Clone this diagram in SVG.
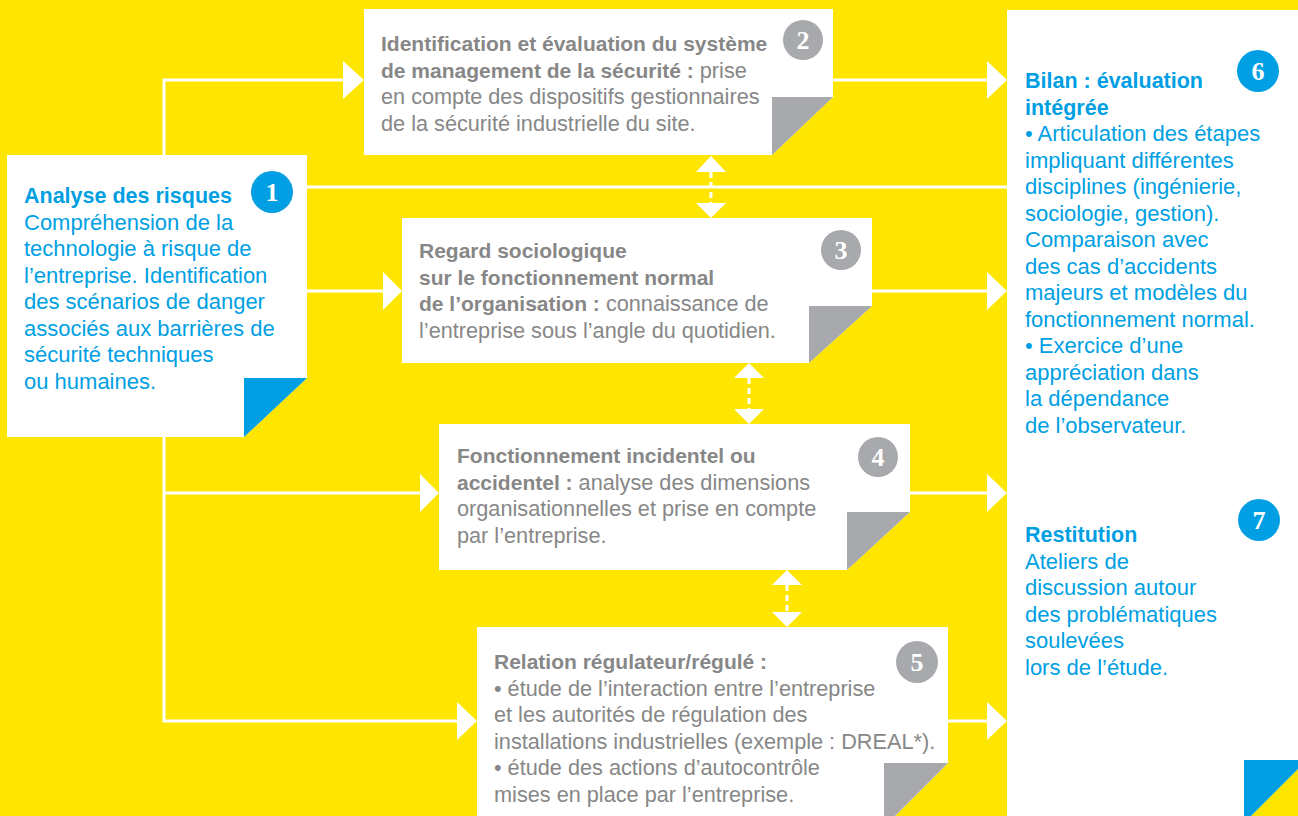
<svg xmlns="http://www.w3.org/2000/svg" width="1298" height="816" viewBox="0 0 1298 816">
<style>
.bg{fill:#FFE600}
.card{fill:#FFFFFF}
.foldg{fill:#A7A9AC}
.foldb{fill:#009FE3}
.ln{stroke:#FFFFFF;stroke-width:3;fill:none}
.dash{stroke:#FFFFFF;stroke-width:3;fill:none;stroke-dasharray:6 4}
.ah{fill:#FFFFFF}
.tg{font-family:"Liberation Sans",Arial,sans-serif;font-size:21.7px;fill:#878787}
.tg .b{font-size:21px}
.tb{font-family:"Liberation Sans",Arial,sans-serif;font-size:22px;fill:#009FE3}
.tb .b{font-size:21.5px}
.b{font-weight:bold}
.cg{fill:#A7A9AC}
.cb{fill:#009FE3}
.num{font-family:"Liberation Serif","Times New Roman",serif;font-weight:bold;font-size:26px;fill:#FFFFFF;text-anchor:middle}
</style>
<rect class="bg" x="0" y="0" width="1298" height="816"/>

<g id="connectors">
  <path class="ln" d="M345,80 H164 V721 H459"/>
  <path class="ln" d="M164,493 H422"/>
  <path class="ln" d="M307,291 H385"/>
  <path class="ln" d="M307,187 H1007"/>
  <path class="ln" d="M833,80 H989"/>
  <path class="ln" d="M872,291 H989"/>
  <path class="ln" d="M910,493 H989"/>
  <path class="ln" d="M948,721 H989"/>
  <polygon class="ah" points="343,61 364,80 343,99"/>
  <polygon class="ah" points="383,272 402,291 383,310"/>
  <polygon class="ah" points="420,474 439,493 420,512"/>
  <polygon class="ah" points="457,702 477,721 457,740"/>
  <polygon class="ah" points="987,61 1007,80 987,99"/>
  <polygon class="ah" points="987,272 1007,291 987,310"/>
  <polygon class="ah" points="987,474 1007,493 987,512"/>
  <polygon class="ah" points="987,702 1007,721 987,740"/>
  <path class="dash" d="M711,172 V203"/>
  <polygon class="ah" points="711,156 726,172 696,172"/>
  <polygon class="ah" points="711,218 726,203 696,203"/>
  <path class="dash" d="M749,378 V409"/>
  <polygon class="ah" points="749,363 764,378 734,378"/>
  <polygon class="ah" points="749,424 764,409 734,409"/>
  <path class="dash" d="M787,585 V612"/>
  <polygon class="ah" points="787,570 802,585 772,585"/>
  <polygon class="ah" points="787,627 802,612 772,612"/>
</g>

<g id="node1">
  <polygon class="card" points="7,155 307,155 307,378 244,437 7,437"/>
  <polygon class="foldb" points="244,378 307,378 244,437"/>
  <circle class="cb" cx="272" cy="192" r="21"/>
  <text class="num" x="272" y="201">1</text>
  <text class="tb" x="24" y="203"><tspan class="b">Analyse des risques</tspan></text>
  <text class="tb" x="24" y="229.5">Compréhension de la</text>
  <text class="tb" x="24" y="256">technologie à risque de</text>
  <text class="tb" x="24" y="282.5">l’entreprise. Identification</text>
  <text class="tb" x="24" y="309">des scénarios de danger</text>
  <text class="tb" x="24" y="335.5">associés aux barrières de</text>
  <text class="tb" x="24" y="362">sécurité techniques</text>
  <text class="tb" x="24" y="388.5">ou humaines.</text>
</g>

<g id="node2">
  <polygon class="card" points="364,9 833,9 833,97 772,155 364,155"/>
  <polygon class="foldg" points="772,97 833,97 772,155"/>
  <circle class="cg" cx="803" cy="40" r="20"/>
  <text class="num" x="803" y="49">2</text>
  <text class="tg" x="381" y="51"><tspan class="b">Identification et évaluation du système</tspan></text>
  <text class="tg" x="381" y="77.5"><tspan class="b">de management de la sécurité :</tspan> prise</text>
  <text class="tg" x="381" y="104">en compte des dispositifs gestionnaires</text>
  <text class="tg" x="381" y="130.5">de la sécurité industrielle du site.</text>
</g>

<g id="node3">
  <polygon class="card" points="402,218 872,218 872,306 809,363 402,363"/>
  <polygon class="foldg" points="809,306 872,306 809,363"/>
  <circle class="cg" cx="841" cy="250" r="20"/>
  <text class="num" x="841" y="259">3</text>
  <text class="tg" x="419" y="258"><tspan class="b">Regard sociologique</tspan></text>
  <text class="tg" x="419" y="284.5"><tspan class="b">sur le fonctionnement normal</tspan></text>
  <text class="tg" x="419" y="311"><tspan class="b">de l’organisation :</tspan> connaissance de</text>
  <text class="tg" x="419" y="337.5">l’entreprise sous l’angle du quotidien.</text>
</g>

<g id="node4">
  <polygon class="card" points="439,424 910,424 910,512 847,570 439,570"/>
  <polygon class="foldg" points="847,512 910,512 847,570"/>
  <circle class="cg" cx="878" cy="457" r="20"/>
  <text class="num" x="878" y="466">4</text>
  <text class="tg" x="457" y="463"><tspan class="b">Fonctionnement incidentel ou</tspan></text>
  <text class="tg" x="457" y="489.5"><tspan class="b">accidentel :</tspan> analyse des dimensions</text>
  <text class="tg" x="457" y="516">organisationnelles et prise en compte</text>
  <text class="tg" x="457" y="542.5">par l’entreprise.</text>
</g>

<g id="node5">
  <polygon class="card" points="477,627 948,627 948,763 895,816 477,816"/>
  <polygon class="foldg" points="884,763 948,763 895,816 884,816"/>
  <circle class="cg" cx="917" cy="662" r="21"/>
  <text class="num" x="917" y="671">5</text>
  <text class="tg" x="494" y="669"><tspan class="b">Relation régulateur/régulé :</tspan></text>
  <text class="tg" x="494" y="695.5">• étude de l’interaction entre l’entreprise</text>
  <text class="tg" x="494" y="722">et les autorités de régulation des</text>
  <text class="tg" x="494" y="748.5">installations industrielles (exemple : DREAL*).</text>
  <text class="tg" x="494" y="775">• étude des actions d’autocontrôle</text>
  <text class="tg" x="494" y="801.5">mises en place par l’entreprise.</text>
</g>

<g id="panel">
  <polygon class="card" points="1007,10 1298,10 1298,769 1251,816 1007,816"/>
  <polygon class="foldb" points="1244,760 1298,760 1298,769 1251,816 1244,816"/>
</g>

<g id="node6">
  <circle class="cb" cx="1258" cy="71" r="21"/>
  <text class="num" x="1258" y="80">6</text>
  <text class="tb" x="1025" y="88"><tspan class="b">Bilan : évaluation</tspan></text>
  <text class="tb" x="1025" y="114.5"><tspan class="b">intégrée</tspan></text>
  <text class="tb" x="1025" y="141">• Articulation des étapes</text>
  <text class="tb" x="1025" y="167.5">impliquant différentes</text>
  <text class="tb" x="1025" y="194">disciplines (ingénierie,</text>
  <text class="tb" x="1025" y="220.5">sociologie, gestion).</text>
  <text class="tb" x="1025" y="247">Comparaison avec</text>
  <text class="tb" x="1025" y="273.5">des cas d’accidents</text>
  <text class="tb" x="1025" y="300">majeurs et modèles du</text>
  <text class="tb" x="1025" y="326.5">fonctionnement normal.</text>
  <text class="tb" x="1025" y="353">• Exercice d’une</text>
  <text class="tb" x="1025" y="379.5">appréciation dans</text>
  <text class="tb" x="1025" y="406">la dépendance</text>
  <text class="tb" x="1025" y="432.5">de l’observateur.</text>
</g>

<g id="node7">
  <circle class="cb" cx="1259" cy="520" r="21"/>
  <text class="num" x="1259" y="529">7</text>
  <text class="tb" x="1025" y="542"><tspan class="b">Restitution</tspan></text>
  <text class="tb" x="1025" y="568.5">Ateliers de</text>
  <text class="tb" x="1025" y="595">discussion autour</text>
  <text class="tb" x="1025" y="621.5">des problématiques</text>
  <text class="tb" x="1025" y="648">soulevées</text>
  <text class="tb" x="1025" y="674.5">lors de l’étude.</text>
</g>
</svg>
